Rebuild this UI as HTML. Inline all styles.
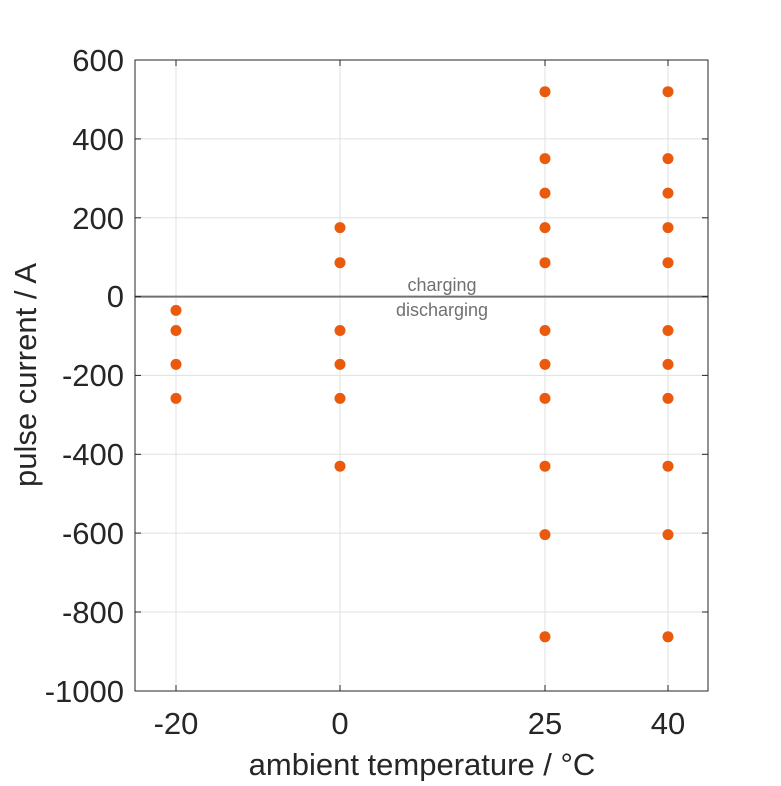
<!DOCTYPE html>
<html><head><meta charset="utf-8"><style>body{margin:0;background:#fff}</style></head>
<body>
<svg width="781" height="781" xmlns="http://www.w3.org/2000/svg" font-family="Liberation Sans, Arial, sans-serif">
<rect width="781" height="781" fill="#fff"/>
<g stroke="#e0e0e0" stroke-width="1">
<line x1="176" y1="60" x2="176" y2="691"/><line x1="340" y1="60" x2="340" y2="691"/>
<line x1="545" y1="60" x2="545" y2="691"/><line x1="668" y1="60" x2="668" y2="691"/>
<line x1="135" y1="138.9" x2="708" y2="138.9"/><line x1="135" y1="217.8" x2="708" y2="217.8"/>
<line x1="135" y1="375.4" x2="708" y2="375.4"/><line x1="135" y1="454.3" x2="708" y2="454.3"/>
<line x1="135" y1="533.1" x2="708" y2="533.1"/><line x1="135" y1="612" x2="708" y2="612"/>
</g>
<line x1="135" y1="296.6" x2="708" y2="296.6" stroke="#707070" stroke-width="2"/>
<rect x="135" y="60" width="573" height="631" fill="none" stroke="#262626" stroke-width="1"/>
<g stroke="#262626" stroke-width="1">
<line x1="176" y1="691" x2="176" y2="685"/><line x1="340" y1="691" x2="340" y2="685"/><line x1="545" y1="691" x2="545" y2="685"/><line x1="668" y1="691" x2="668" y2="685"/>
<line x1="176" y1="60" x2="176" y2="66"/><line x1="340" y1="60" x2="340" y2="66"/><line x1="545" y1="60" x2="545" y2="66"/><line x1="668" y1="60" x2="668" y2="66"/>
<line x1="135" y1="60" x2="141" y2="60"/><line x1="135" y1="138.9" x2="141" y2="138.9"/><line x1="135" y1="217.8" x2="141" y2="217.8"/><line x1="135" y1="296.6" x2="141" y2="296.6"/><line x1="135" y1="375.4" x2="141" y2="375.4"/><line x1="135" y1="454.3" x2="141" y2="454.3"/><line x1="135" y1="533.1" x2="141" y2="533.1"/><line x1="135" y1="612" x2="141" y2="612"/><line x1="135" y1="691" x2="141" y2="691"/>
<line x1="708" y1="60" x2="702" y2="60"/><line x1="708" y1="138.9" x2="702" y2="138.9"/><line x1="708" y1="217.8" x2="702" y2="217.8"/><line x1="708" y1="296.6" x2="702" y2="296.6"/><line x1="708" y1="375.4" x2="702" y2="375.4"/><line x1="708" y1="454.3" x2="702" y2="454.3"/><line x1="708" y1="533.1" x2="702" y2="533.1"/><line x1="708" y1="612" x2="702" y2="612"/>
</g>
<g font-size="31" fill="#262626" text-anchor="end">
<text x="124" y="71">600</text><text x="124" y="150">400</text><text x="124" y="229">200</text><text x="124" y="307">0</text><text x="124" y="386">-200</text><text x="124" y="465">-400</text><text x="124" y="544">-600</text><text x="124" y="623">-800</text><text x="124" y="702">-1000</text>
</g>
<g font-size="31" fill="#262626" text-anchor="middle">
<text x="176" y="734">-20</text><text x="340" y="734">0</text><text x="545" y="734">25</text><text x="668" y="734">40</text>
</g>
<text x="422" y="775" font-size="31" fill="#262626" text-anchor="middle">ambient temperature / °C</text>
<text transform="translate(36,375) rotate(-90)" font-size="31" fill="#262626" text-anchor="middle">pulse current / A</text>
<text x="442" y="291" font-size="18" fill="#707070" text-anchor="middle">charging</text>
<text x="442" y="316" font-size="18" fill="#707070" text-anchor="middle">discharging</text>
<g fill="#ea5a0c">
<circle cx="176" cy="310.4" r="5.5"/><circle cx="176" cy="330.5" r="5.5"/><circle cx="176" cy="364.4" r="5.5"/><circle cx="176" cy="398.4" r="5.5"/>
<circle cx="340" cy="227.6" r="5.5"/><circle cx="340" cy="262.7" r="5.5"/><circle cx="340" cy="330.5" r="5.5"/><circle cx="340" cy="364.4" r="5.5"/><circle cx="340" cy="398.4" r="5.5"/><circle cx="340" cy="466.2" r="5.5"/>
<circle cx="545" cy="91.7" r="5.5"/><circle cx="545" cy="158.6" r="5.5"/><circle cx="545" cy="193.1" r="5.5"/><circle cx="545" cy="227.6" r="5.5"/><circle cx="545" cy="262.7" r="5.5"/><circle cx="545" cy="330.5" r="5.5"/><circle cx="545" cy="364.4" r="5.5"/><circle cx="545" cy="398.4" r="5.5"/><circle cx="545" cy="466.2" r="5.5"/><circle cx="545" cy="534.6" r="5.5"/><circle cx="545" cy="636.8" r="5.5"/>
<circle cx="668" cy="91.7" r="5.5"/><circle cx="668" cy="158.6" r="5.5"/><circle cx="668" cy="193.1" r="5.5"/><circle cx="668" cy="227.6" r="5.5"/><circle cx="668" cy="262.7" r="5.5"/><circle cx="668" cy="330.5" r="5.5"/><circle cx="668" cy="364.4" r="5.5"/><circle cx="668" cy="398.4" r="5.5"/><circle cx="668" cy="466.2" r="5.5"/><circle cx="668" cy="534.6" r="5.5"/><circle cx="668" cy="636.8" r="5.5"/>
</g>
</svg>
</body></html>
